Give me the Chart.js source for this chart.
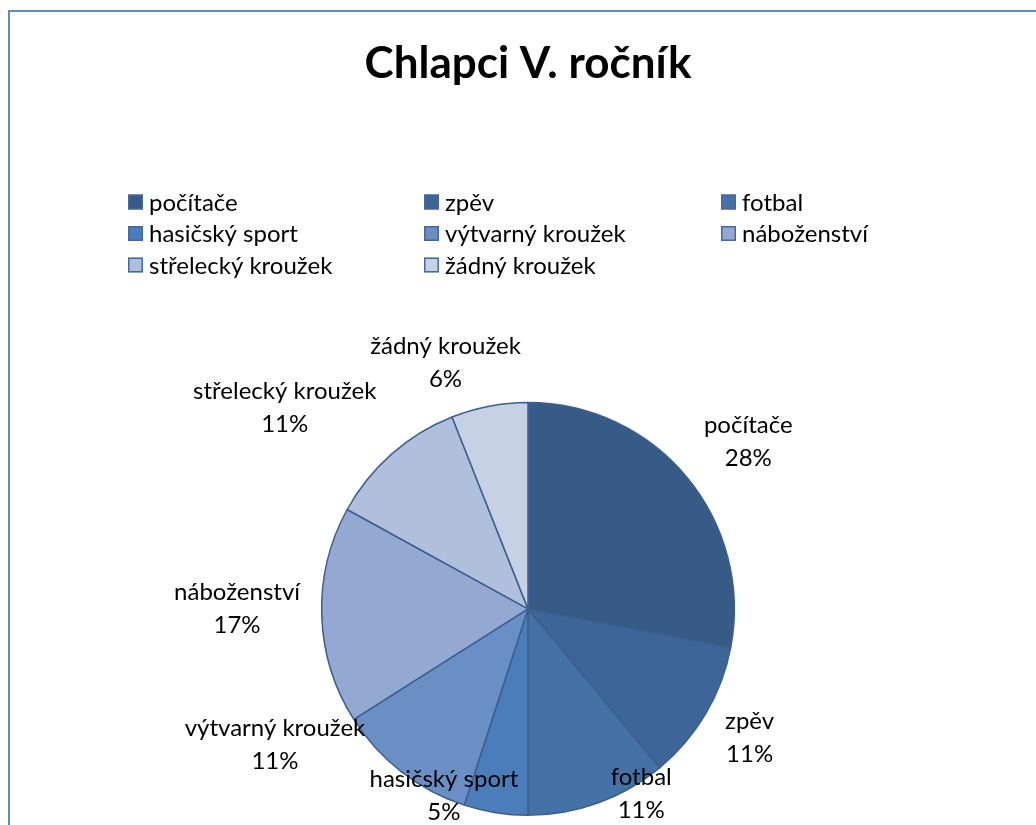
<!DOCTYPE html>
<html>
<head>
<meta charset="utf-8">
<script src="https://cdn.jsdelivr.net/npm/chart.js@4.4.0/dist/chart.umd.min.js"></script>
<style>
    html, body { margin:0; padding:0; background:#fff; overflow:hidden; }
    #wrap { position:relative; width:1036px; height:825px; }
    #frame { position:absolute; left:8px; top:10px; width:1100px; height:900px;
             border-left:2px solid #5B8BC8; border-top:2px solid #5B8BC8; }
    #box { position:absolute; left:0; top:0; width:1036px; height:825px; }
</style>
</head>
<body>
<div id="wrap">
    <div id="frame"></div>
    <div id="box"><canvas id="myChart"></canvas></div>
</div>
<script>
var categories = ['počítače', 'zpěv', 'fotbal', 'hasičský sport', 'výtvarný kroužek', 'náboženství', 'střelecký kroužek', 'žádný kroužek'];
var values = [28, 11, 11, 5, 11, 17, 11, 6];
var sliceColors = ['#375A87', '#3D6597', '#4471A6', '#4A7DB9', '#6A8FC4', '#94A9D1', '#AFBFDC', '#C7D1E5'];

// where the data labels sit: angle clockwise from 12 o'clock, distance in pie radii
var labelAngle = [52.8, 120, 148.5, 204.3, 241.9, 270.2, 309.6, 341.5];
var labelDist = [1.34, 1.24, 1.05, 0.99, 1.39, 1.41, 1.53, 1.26];

var FONT = 'Lato, "Open Sans", sans-serif';
var TEXT_SIZE = 24;

var pieLabels = {
    id: 'pieLabels',
    afterDatasetsDraw: function(chart) {
        var ctx = chart.ctx;
        var meta = chart.getDatasetMeta(0);
        var data = chart.data.datasets[0].data;
        var total = data.reduce(function(a, b){ return a + b; }, 0);
        ctx.save();
        ctx.font = TEXT_SIZE + 'px ' + FONT;
        ctx.fillStyle = '#000';
        ctx.textAlign = 'center';
        ctx.textBaseline = 'middle';
        meta.data.forEach(function(arc, i){
            var a = labelAngle[i] * Math.PI / 180;
            var r = arc.outerRadius * labelDist[i];
            var x = arc.x + Math.sin(a) * r;
            var y = arc.y - Math.cos(a) * r;
            ctx.fillText(chart.data.labels[i], x, y - 16);
            ctx.fillText(Math.round(data[i] / total * 100) + '%', x, y + 17);
        });
        ctx.restore();
    }
};

// legend laid out in three fixed columns like the original
var gridLegend = {
    id: 'gridLegend',
    afterDraw: function(chart) {
        var ctx = chart.ctx;
        var cols = [128, 424, 721];
        var top = 202, rowH = 31.5, box = 15;
        var ds = chart.data.datasets[0];
        ctx.save();
        ctx.font = TEXT_SIZE + 'px ' + FONT;
        ctx.textBaseline = 'middle';
        ctx.textAlign = 'left';
        chart.data.labels.forEach(function(lbl, i){
            var x = cols[i % 3];
            var y = top + Math.floor(i / 3) * rowH;
            ctx.fillStyle = ds.backgroundColor[i];
            ctx.fillRect(x, y - box / 2, box, box);
            ctx.strokeStyle = '#46699A';
            ctx.lineWidth = 1.5;
            ctx.strokeRect(x + 0.75, y - box / 2 + 0.75, box - 1.5, box - 1.5);
            ctx.fillStyle = '#000';
            ctx.fillText(lbl, x + box + 6, y + 1);
        });
        ctx.restore();
    }
};

var ctx = document.getElementById('myChart').getContext('2d');
var myPie = new Chart(ctx, {
    type: 'pie',
    data: {
        labels: categories,
        datasets: [{
            data: values,
            backgroundColor: sliceColors,
            borderColor: '#3A5F90',
            borderWidth: 1.5
        }]
    },
    options: {
        responsive: true,
        maintainAspectRatio: false,
        animation: false,
        layout: { padding: { left: 20, right: 0, top: 0, bottom: 9 } },
        plugins: {
            legend: { display: false },
            tooltip: { enabled: false },
            title: {
                display: true,
                text: 'Chlapci V. ročník',
                color: '#000',
                font: { family: FONT, size: 44, weight: 'bold', lineHeight: 1.2 },
                padding: { top: 37, bottom: 312 }
            }
        }
    },
    plugins: [pieLabels, gridLegend]
});
</script>
</body>
</html>
